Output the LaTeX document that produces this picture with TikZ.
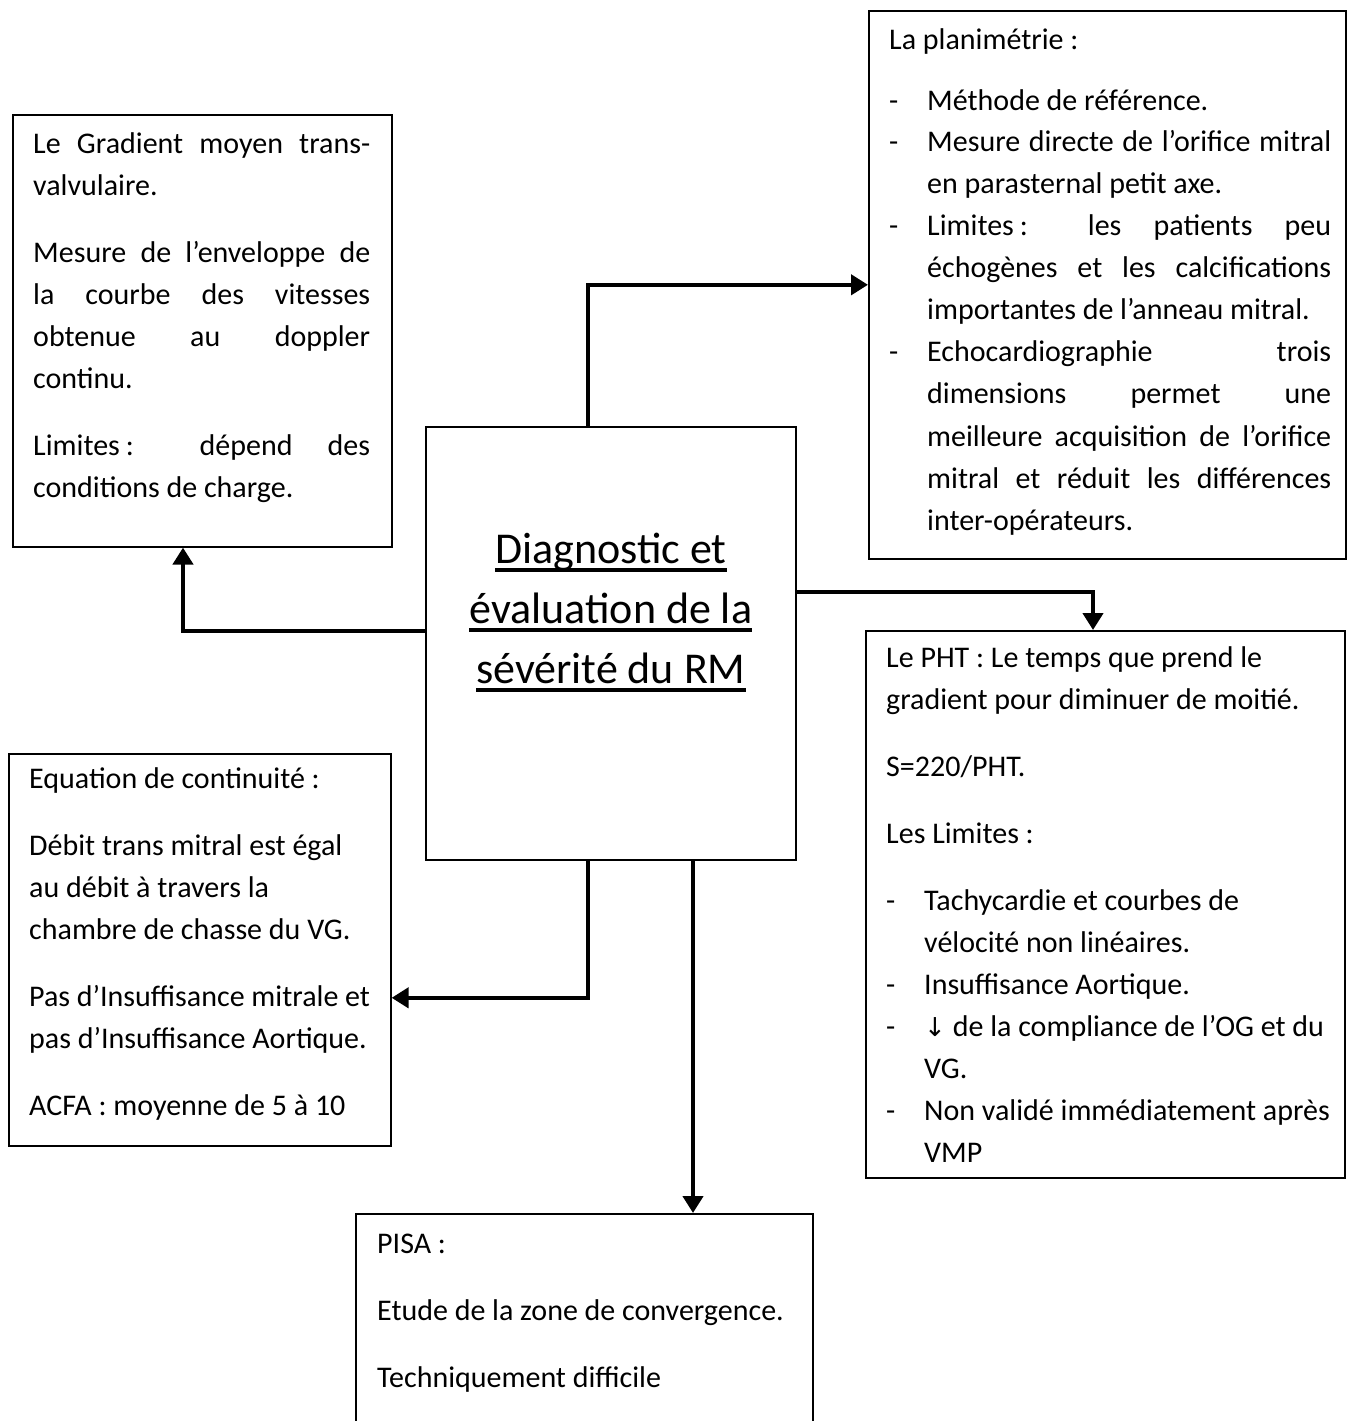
\documentclass[tikz,border=0pt]{standalone}
\usepackage{fontspec}
\setmainfont{Carlito}
\newfontfamily\fleches{DejaVu Sans}
\usetikzlibrary{arrows.meta,positioning}

\newcommand{\corps}{\fontsize{30}{42}\selectfont\setlength{\parindent}{0pt}}
\newcommand{\titre}{\fontsize{44}{60}\selectfont}
\newcommand{\tiret}{\noindent\hangindent=38pt\hangafter=1\makebox[38pt][l]{-}}
\newcommand{\para}{\par\vspace{25pt}}
\newsavebox{\boitesoul}
\newcommand{\souligne}[1]{\sbox{\boitesoul}{#1}\rlap{\rule[-8.5pt]{\wd\boitesoul}{3.8pt}}\usebox{\boitesoul}}

\tikzset{
	boite/.style={draw,line width=1.6pt,inner sep=0pt,anchor=north west},
	texte/.style={inner sep=0pt,anchor=base west,font=\corps},
	fleche/.style={line width=4.6pt,-{Triangle[length=17pt,width=20pt]}},
}

\begin{document}
\begin{tikzpicture}[x=1pt,y=-1pt]
	\useasboundingbox (0,0) rectangle (1347,1421);
	% cadres
	\node[boite,minimum width=379pt,minimum height=432pt] (grad) at (12,114) {};
	\node[boite,minimum width=477pt,minimum height=548pt] (plani) at (868,10) {};
	\node[boite,minimum width=370pt,minimum height=433pt] (diag) at (425,426) {};
	\node[boite,minimum width=479pt,minimum height=547pt] (pht) at (865,630) {};
	\node[boite,minimum width=382pt,minimum height=392pt] (equa) at (8,753) {};
	\node[boite,minimum width=457pt,minimum height=260pt] (pisa) at (355,1213) {};
	% textes
	\node[inner sep=0pt,anchor=base,align=center,font=\titre] (titre) at ([yshift=-257pt]diag.north)
		{\souligne{Diagnostic et}\\\souligne{évaluation de la}\\\souligne{sévérité du RM}};
	\node[texte,text width=337pt,align=justify] (gradtxt) at ([xshift=21pt,yshift=-39pt]grad.north west)
		{Le Gradient moyen trans-\linebreak valvulaire.\para
		Mesure de l’enveloppe de\linebreak la courbe des vitesses\linebreak obtenue au doppler\linebreak continu.\para
		Limites\hspace{.2em}: dépend des\linebreak conditions de charge.\par};
	\node[texte,text width=442pt,align=justify] (planitxt) at ([xshift=21pt,yshift=-40pt]plani.north west)
		{La planimétrie :\par\vspace{18pt}
		\tiret Méthode de référence.\par
		\tiret Mesure directe de l’orifice mitral\linebreak en parasternal petit axe.\par
		\tiret Limites\hspace{.2em}: les patients peu\linebreak échogènes et les calcifications\linebreak importantes de l’anneau mitral.\par
		\tiret Echocardiographie trois\linebreak dimensions permet une\linebreak meilleure acquisition de l’orifice\linebreak mitral et réduit les différences\linebreak inter-opérateurs.\par};
	\node[texte,text width=455pt,align=flush left] (phttxt) at ([xshift=21pt,yshift=-37pt]pht.north west)
		{Le PHT : Le temps que prend le\newline gradient pour diminuer de moitié.\para
		S=220/PHT.\para
		Les Limites :\para
		\tiret Tachycardie et courbes de\newline vélocité non linéaires.\par
		\tiret Insuffisance Aortique.\par
		\tiret {\fleches\fontsize{26}{42}\selectfont ↓} de la compliance de l’OG et du\newline VG.\par
		\tiret Non validé immédiatement après\newline VMP\par};
	\node[texte,text width=360pt,align=flush left] (equatxt) at ([xshift=21pt,yshift=-35pt]equa.north west)
		{Equation de continuité :\para
		Débit trans mitral est égal\newline au débit à travers la\newline chambre de chasse du VG.\para
		Pas d’Insuffisance mitrale et\newline pas d’Insuffisance Aortique.\para
		ACFA : moyenne de 5 à 10\par};
	\node[texte,text width=430pt,align=flush left] (pisatxt) at ([xshift=22pt,yshift=-40pt]pisa.north west)
		{PISA :\para
		Etude de la zone de convergence.\para
		Techniquement difficile\par};
	% liaisons
	\draw[fleche] ([xshift=163pt]diag.north west) |- (plani.west);
	\draw[fleche] ([yshift=12.5pt]diag.west) -| ([xshift=171pt]grad.south west);
	\draw[fleche] ([yshift=51.5pt]diag.east) -| ([xshift=228pt]pht.north west);
	\draw[fleche] ([xshift=163pt]diag.south west) |- ([yshift=-48pt]equa.east);
	\draw[fleche] ([xshift=268pt]diag.south west) -- ([xshift=268pt]diag.south west |- pisa.north);
\end{tikzpicture}
\end{document}
